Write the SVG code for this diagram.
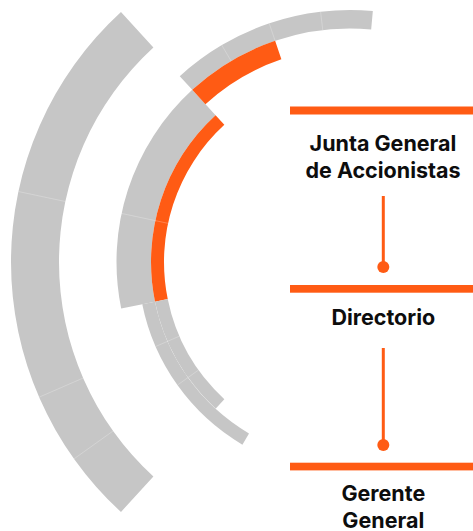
<svg xmlns="http://www.w3.org/2000/svg" width="473" height="531" viewBox="0 0 473 531">
<style>
.g{fill:#C6C6C6}
.o{fill:#FF5B14}
.seam{stroke:#FFFFFF;stroke-opacity:0.4;stroke-width:0.6;fill:none}
.bar{fill:#FF5B14}
.lbl{font-family:Inter,"Liberation Sans",sans-serif;font-weight:700;font-size:21.5px;fill:#0D0D0D;text-anchor:middle}
.conn{stroke:#FF5B14;stroke-width:3;fill:none}
.dot{fill:#FF5B14}
</style>
<rect width="473" height="531" fill="#FFFFFF"/>
<g id="arcs">
<path id="arc-a" class="g" d="M120.98 12.06 A339 339 0 0 0 120.98 511.94 L153.40 476.55 A291 291 0 0 1 153.40 47.45 Z"/>
<path id="arc-b" class="g" d="M121.19 308.55 A233.5 233.5 0 0 1 192.25 89.85 L215.56 115.28 A199 199 0 0 0 155.0 301.67 Z"/>
<path id="arc-c" class="o" d="M155.0 301.67 A199 199 0 0 1 215.56 115.28 L224.34 124.87 A186 186 0 0 0 167.73 299.08 Z"/>
<path id="arc-d" class="g" d="M179.75 76.21 A252 252 0 0 1 372.84 11.04 L371.16 29.46 A233.5 233.5 0 0 0 192.25 89.85 Z"/>
<path id="arc-e" class="o" d="M192.25 89.85 A233.5 233.5 0 0 1 275.12 40.83 L281.38 59.30 A214 214 0 0 0 205.42 104.22 Z"/>
<path id="arc-f" class="g" d="M155.0 301.67 A199 199 0 0 0 215.56 408.72 L224.34 399.13 A186 186 0 0 1 167.73 299.08 Z"/>
<path id="arc-g" class="g" d="M142.26 304.27 A212 212 0 0 0 242.40 444.67 L249.0 433.46 A199 199 0 0 1 155.0 301.67 Z"/>
<g class="seam">
<line x1="65.36" y1="201.50" x2="18.41" y2="191.52"/>
<line x1="83.14" y1="378.04" x2="39.12" y2="397.18"/>
<line x1="113.09" y1="430.98" x2="74.01" y2="458.86"/>
<line x1="121.11" y1="213.35" x2="168.06" y2="223.33"/>
<line x1="179.43" y1="336.17" x2="155.58" y2="346.53"/>
<line x1="198.57" y1="370.01" x2="177.41" y2="385.11"/>
<path d="M188.00 377.57 A199 199 0 0 0 215.56 408.72"/>
<line x1="231.14" y1="61.02" x2="221.72" y2="45.09"/>
<line x1="275.12" y1="40.83" x2="269.19" y2="23.31"/>
<line x1="322.76" y1="30.09" x2="320.60" y2="11.72"/>
</g>
</g>
<g id="connectors">
<line class="conn" x1="383.3" y1="196" x2="383.3" y2="267"/>
<circle class="dot" cx="383.3" cy="267" r="6"/>
<line class="conn" x1="383.3" y1="348" x2="383.3" y2="445"/>
<circle class="dot" cx="383.3" cy="445" r="6"/>
</g>
<g id="node-junta">
<rect class="bar" x="290" y="106.5" width="183" height="8"/>
<text class="lbl" x="383" y="151">Junta General</text>
<text class="lbl" x="383" y="178.3">de Accionistas</text>
</g>
<g id="node-directorio">
<rect class="bar" x="290" y="285" width="183" height="7.7"/>
<text class="lbl" x="383.3" y="325">Directorio</text>
</g>
<g id="node-gerente">
<rect class="bar" x="290" y="462.7" width="183" height="7.7"/>
<text class="lbl" x="383.3" y="501">Gerente</text>
<text class="lbl" x="383.3" y="527.8">General</text>
</g>
</svg>
